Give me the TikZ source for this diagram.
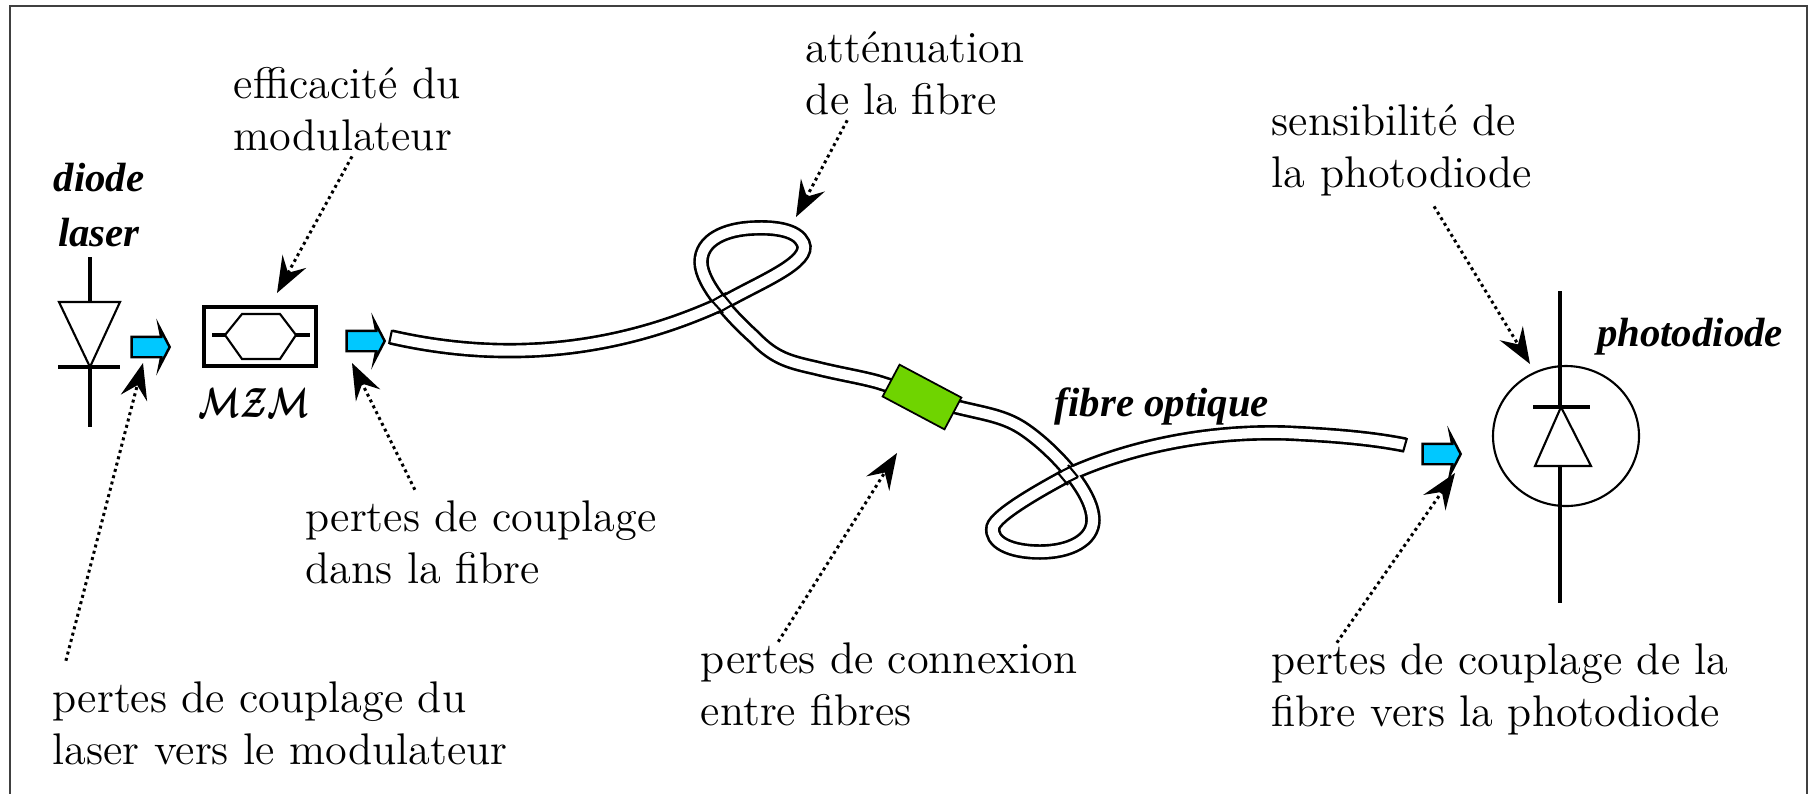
\documentclass[tikz,border=0pt]{standalone}
\usepackage{amsmath}
\usepackage{fontspec}
\usetikzlibrary{arrows.meta,shapes.arrows}
\newfontfamily\namefont{Liberation Serif}
\definecolor{framegray}{HTML}{404040}
\definecolor{photoncyan}{HTML}{00C8FF}
\definecolor{connectgreen}{HTML}{6FD400}
\newcommand{\fibrepath}{(391,337) .. controls (470,355) and (590,365) .. (725,302)
    .. controls (760,282) and (812,262) .. (803,243)
    .. controls (797,230) and (775,227) .. (754,228)
    .. controls (725,229) and (701,240) .. (701,262)
    .. controls (701,285) and (735,320) .. (754,337)
    .. controls (775,359) and (790,362) .. (816,368)
    .. controls (840,374) and (860,377) .. (878,382)
    -- (957,407)
    .. controls (985,414) and (1005,416) .. (1025,430)
    .. controls (1050,447) and (1093,490) .. (1093,520)
    .. controls (1093,540) and (1070,552) .. (1040,552)
    .. controls (1010,552) and (990,542) .. (993,527)
    .. controls (996,515) and (1040,490) .. (1068,475)
    .. controls (1100,460) and (1180,430) .. (1286,433)
    .. controls (1330,435) and (1370,438) .. (1405,445)}

\begin{document}
\begin{tikzpicture}[x=0.01cm,y=-0.01cm,
    loss/.style={inner sep=0pt,align=left,font=\fontsize{12.6}{14.75}\selectfont},
    name label/.style={inner sep=0pt,align=center,font=\namefont\fontsize{11.6}{15.6}\selectfont\bfseries\itshape},
    lossarrow/.style={densely dotted,line width=0.85pt,-{Stealth[length=0.36cm,width=0.27cm,inset=0.13cm]}},
    symbol/.style={line width=0.9pt},
    edge/.style={line width=0.6pt},
    photon/.style={draw=black,fill=photoncyan,line width=0.7pt,single arrow,inner sep=0.09cm,minimum height=0.38cm,
      single arrow head extend=0.1cm,single arrow tip angle=125,single arrow head indent=0.02cm}]
    \useasboundingbox (0,0) rectangle (1809,793);
    \draw[framegray,line width=0.8pt] (10,6) rectangle (1807,800);

    % laser
    \draw[symbol] (90,257) -- (90,302);
    \draw[line width=0.6pt] (59,302) -- (120,302) -- (90,367) -- cycle;
    \draw[symbol] (58,367) -- (120,367);
    \draw[symbol] (90,367) -- (90,427);
    \node[name label] (diode) at (99,205) {diode\\laser};
    \node[photon] (beam laser) at (148,347) {};

    % MZM
    \draw[line width=1.1pt] (204,307) rectangle (316,366);
    \draw[symbol] (212,335) -- (225,335);
    \draw[line width=0.6pt] (225,335) -- (242,314) -- (280,314) -- (296,335) -- (280,359) -- (242,359) -- cycle;
    \draw[symbol] (296,335) -- (310,335);
    \node[inner sep=0pt,font=\fontsize{12}{14}\selectfont\boldmath] (mzm) at (254,403) {\scalebox{0.72}[1]{$\mathcal{MZM}$}};
    \node[photon] (beam mzm) at (363,341) {};

    % fibre
    \draw[black,line width=4.4pt] \fibrepath;
    \draw[white,line width=2.9pt] \fibrepath;
    \draw[edge] (392,330) -- (389,344);
    \draw[edge] (1407,438) -- (1403,452);
    % crossings
    \draw[edge] (718,313) -- (732,305);
    \draw[edge] (712,301) -- (726,293);
    \draw[edge] (722,293) -- (732,305);
    \draw[edge] (712,301) -- (723,313);
    \draw[edge] (1064,484) -- (1078,477);
    \draw[edge] (1058,473) -- (1072,466);
    \draw[edge] (1068,465) -- (1078,477);
    \draw[edge] (1058,473) -- (1068,485);
    \node[draw=black,fill=connectgreen,line width=0.5pt,rotate=-28,minimum width=0.7cm,minimum height=0.36cm,inner sep=0pt] (connector) at (922,397) {};
    \node[name label] (fibre) at (1162,406) {fibre optique};
    \node[photon] (beam fibre) at (1439,454) {};

    % photodiode
    \draw[line width=0.6pt] (1566,436) ellipse (73 and 70);
    \draw[symbol] (1560,291) -- (1560,407);
    \draw[symbol] (1533,407) -- (1590,407);
    \draw[line width=0.6pt] (1561,407) -- (1591,466) -- (1535,466) -- cycle;
    \draw[symbol] (1560,466) -- (1560,603);
    \node[name label] (photodiode) at (1690,337) {photodiode};

    % losses
    \node[loss] (lb mod) at (347,109) {efficacité du\\modulateur};
    \node[loss] (lb att) at (915,73) {atténuation\\de la fibre};
    \node[loss] (lb sens) at (1402,150) {sensibilité de\\la photodiode};
    \node[loss] (lb dans) at (481,542) {pertes de couplage\\dans la fibre};
    \node[loss] (lb laser) at (280,723) {pertes de couplage du\\laser vers le modulateur};
    \node[loss] (lb conn) at (889,684) {pertes de connexion\\entre fibres};
    \node[loss] (lb fib) at (1500,689) {pertes de couplage de la\\fibre vers la photodiode};

    \coordinate (tip mod) at (277,293);
    \coordinate (tip att) at (796,217);
    \coordinate (tip sens) at (1530,364);
    \coordinate (tip dans) at (352,363);
    \coordinate (tip laser) at (143,363);
    \coordinate (tip conn) at (897,453);
    \coordinate (tip fib) at (1455,473);

    \draw[lossarrow] ([xshift=0.05cm,yshift=-0.05cm]lb mod.south) -- (tip mod);
    \draw[lossarrow] ([xshift=0.42cm,yshift=-0.05cm]lb att.south west) -- (tip att);
    \draw[lossarrow] ([xshift=0.32cm,yshift=-0.1cm]lb sens.south) -- (tip sens);
    \draw[lossarrow] ([xshift=1.1cm,yshift=0.1cm]lb dans.north west) -- (tip dans);
    \draw[lossarrow] ([xshift=0.14cm,yshift=0.2cm]lb laser.north west) -- (tip laser);
    \draw[lossarrow] ([xshift=0.78cm]lb conn.north west) -- (tip conn);
    \draw[lossarrow] ([xshift=0.66cm]lb fib.north west) -- (tip fib);
\end{tikzpicture}
\end{document}
